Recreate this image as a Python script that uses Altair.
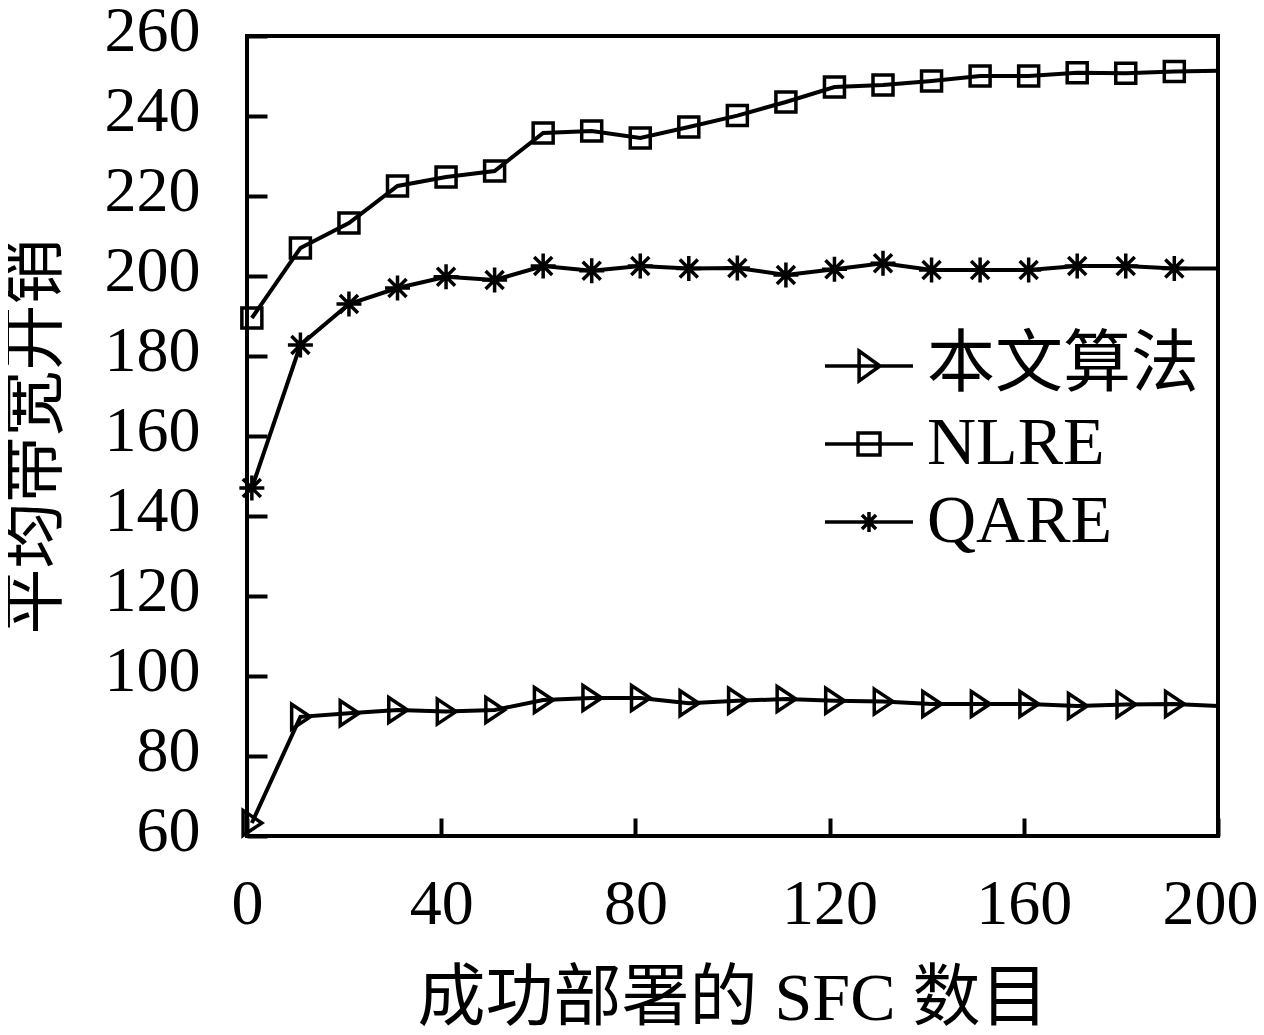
import altair as alt
import pandas as pd

# ---- data ----
x_vals = [1, 11, 21, 31, 41, 51, 61, 71, 81, 91, 101, 111, 121, 131, 141, 151, 161, 171, 181, 191, 200]
ours = [63.25, 89.8, 90.7, 91.5, 91.1, 91.5, 94.0, 94.5, 94.5, 93.2, 93.8, 94.25, 93.8, 93.6,
        93.0, 93.0, 93.0, 92.5, 92.9, 93.0, 92.5]
nlre = [189.5, 207.0, 213.25, 222.5, 224.75, 226.25, 235.75, 236.25, 234.5, 237.25, 240.1,
        243.5, 247.25, 247.75, 248.75, 250.0, 250.0, 250.8, 250.7, 251.1, 251.3]
qare = [147.0, 182.75, 193.0, 197.0, 199.8, 199.0, 202.5, 201.3, 202.5, 201.9, 202.0, 200.25,
        201.7, 203.2, 201.5, 201.5, 201.5, 202.5, 202.5, 201.9, 201.9]
series_names = ["本文算法", "NLRE", "QARE"]
x_ticks = [0, 40, 80, 120, 160, 200]
y_ticks = [60, 80, 100, 120, 140, 160, 180, 200, 220, 240, 260]
x_title = "成功部署的 SFC 数目"
y_title = "平均带宽开销"

rows = []
for name, vals in zip(series_names, [ours, nlre, qare]):
    for xv, yv in zip(x_vals, vals):
        rows.append({"series": name, "x": xv, "y": yv})
df = pd.DataFrame(rows)

FONT = "'Liberation Serif', 'Noto Sans CJK SC', serif"

# marker shapes (in the [-1,1] symbol box)
plot_shapes = [
    "M-0.7,-1L0.8,0L-0.7,1Z",
    "M-0.8,-0.8H0.8V0.8H-0.8Z",
    "M-1,0H1M0,-1V1M-0.72,-0.72L0.72,0.72M-0.72,0.72L0.72,-0.72",
]
legend_shapes = [
    "M-2,0H2M-0.45,-0.68L0.5,0L-0.45,0.68Z",
    "M-2,0H2M-0.5,-0.5H0.5V0.5H-0.5Z",
    "M-2,0H2M-0.45,0H0.45M0,-0.45V0.45M-0.32,-0.32L0.32,0.32M-0.32,0.32L0.32,-0.32",
]

x_enc = alt.X(
    "x:Q",
    scale=alt.Scale(domain=[0, 200], nice=False),
    axis=alt.Axis(
        values=x_ticks, offset=-18, tickSize=18, tickWidth=4, tickColor="black",
        domain=False, grid=False, labelFont=FONT, labelFontSize=64, labelColor="black",
        labelPadding=36, labelFlush=False, labelOverlap=False,
        labelOffset={"condition": {"test": "datum.value == 200", "value": -8}, "value": 0},
        title=x_title, titleFont=FONT, titleFontSize=68, titleFontWeight="normal",
        titleColor="black", titlePadding=29,
    ),
)
y_enc = alt.Y(
    "y:Q",
    scale=alt.Scale(domain=[60, 260], nice=False),
    axis=alt.Axis(
        values=y_ticks, offset=-20, tickSize=20, tickWidth=4, tickColor="black",
        domain=False, grid=False, labelFont=FONT, labelFontSize=64, labelColor="black",
        labelPadding=47, labelFlush=False, labelOverlap=False, labelOffset=-5,
        title=y_title, titleFont=FONT, titleFontSize=66, titleFontWeight="normal",
        titleColor="black", titlePadding=35,
    ),
)

base = alt.Chart(df)

lines = base.mark_line(color="black", strokeWidth=4).encode(
    x=x_enc, y=y_enc, detail="series:N", order="x:Q"
)

points = base.transform_filter("datum.x < 200").mark_point(
    filled=False, color="black", strokeWidth=3.5, size=625, opacity=1
).encode(
    x=x_enc, y=y_enc,
    shape=alt.Shape("series:N", scale=alt.Scale(domain=series_names, range=plot_shapes), legend=None),
)

legend_layer = base.transform_filter("datum.x == 200").mark_point(
    filled=False, color="black", strokeWidth=3.5, clip=True, opacity=1
).encode(
    x=alt.value(-5000), y=alt.value(-5000),
    shape=alt.Shape(
        "series:N",
        scale=alt.Scale(domain=series_names, range=legend_shapes),
        legend=alt.Legend(
            orient="none", legendX=588, legendY=296, title=None, padding=0,
            labelFont=FONT, labelFontSize=68, labelColor="black", labelOffset=24,
            symbolSize=1936, symbolStrokeWidth=3.5, symbolStrokeColor="black",
            rowPadding=10, labelLimit=400,
        ),
    ),
)

chart = alt.layer(lines, points, legend_layer).resolve_scale(shape="independent").properties(
    width=971, height=800,
    autosize=alt.AutoSizeParams(type="none"),
    padding={"left": 239, "top": 28, "right": 38, "bottom": 191},
    background="white",
).configure_view(stroke="black", strokeWidth=4)

chart.save("out.html", embed_options={"renderer": "svg", "actions": False})
